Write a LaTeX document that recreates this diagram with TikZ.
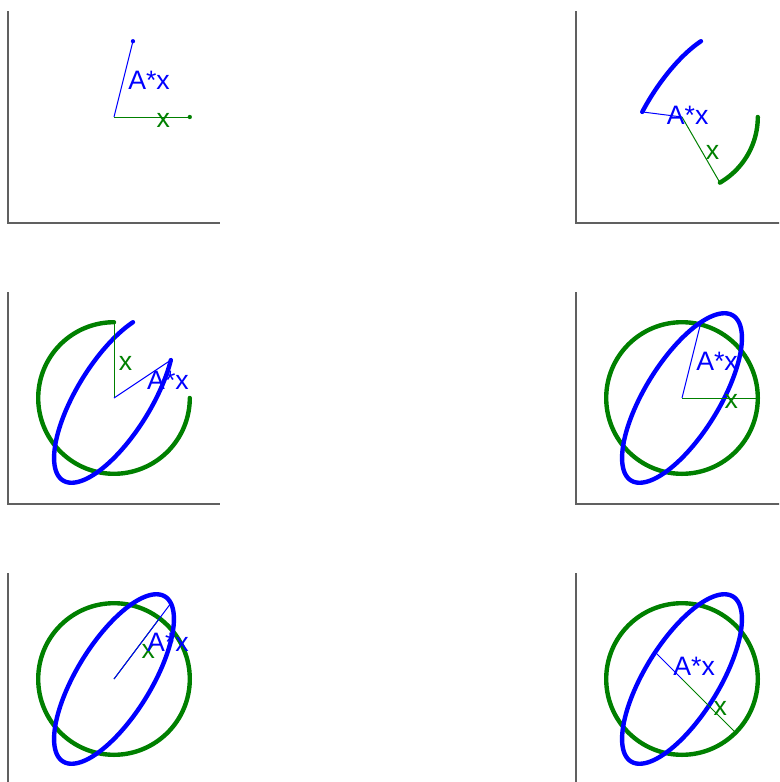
\documentclass[tikz,border=0pt]{standalone}
\usepackage{fontspec}
\setmainfont{Liberation Sans}
\definecolor{mblue}{RGB}{0,0,255}
\definecolor{mgreen}{RGB}{0,128,0}
\definecolor{axgray}{RGB}{96,96,96}
\newlength{\unitlen}
\setlength{\unitlen}{56.85pt}
% #1 name, #2 ox, #3 oy (pixels), #4 angle of x, #5 mode: 0 = dots, 1 = arc, 2 = full curve
\newcommand\eigpanel[5]{%
  \draw[axispath] (#2-106,#3-106) -- (#2-106,#3+106) -- (#2+106,#3+106);
  \begin{scope}[shift={(#2,#3)}, x=\unitlen, y=\unitlen]
    \coordinate (O#1) at (0,0);
    \coordinate (X#1) at ({cos(#4)},{sin(#4)});
    \coordinate (AX#1) at ({0.25*cos(#4)+0.75*sin(#4)},{cos(#4)+0.5*sin(#4)});
    \ifcase#5
      \fill[mgreen] (X#1) circle[radius=1.6pt];
      \fill[mblue] (AX#1) circle[radius=1.6pt];
    \or
      \draw[curvepath, mgreen] plot[domain=#4:0, samples=120] ({cos(\x)},{sin(\x)});
      \draw[curvepath, mblue] plot[domain=#4:0, samples=120] ({0.25*cos(\x)+0.75*sin(\x)},{cos(\x)+0.5*sin(\x)});
    \or
      \draw[curvepath, mgreen] (O#1) circle[radius=1];
      \draw[curvepath, mblue] plot[domain=0:360, samples=181] ({0.25*cos(\x)+0.75*sin(\x)},{cos(\x)+0.5*sin(\x)}) -- cycle;
    \fi
    \draw[vecpath, mgreen] (O#1) -- (X#1);
    \draw[vecpath, mblue] (O#1) -- (AX#1);
    \path (O#1) -- (X#1) node[lbl, midway, text=mgreen] (LX#1) {x};
    \path (O#1) -- (AX#1) node[lbl, midway, text=mblue] (LAX#1) {A*x};
  \end{scope}}
\begin{document}
\begin{tikzpicture}[x=0.75pt, y=-0.75pt,
  axispath/.style={draw=axgray, line width=1pt},
  vecpath/.style={line width=0.75pt},
  curvepath/.style={line width=3.3pt, line cap=round, line join=round},
  lbl/.style={anchor=base west, inner sep=0pt, font=\fontsize{20}{24}\selectfont, xshift=3.4pt, yshift=-7.5pt}]
\useasboundingbox (0,0) rectangle (779,782);
\clip (0,0) rectangle (779,782);
\eigpanel{a}{114}{117}{0}{0}
\eigpanel{b}{682}{117}{-60}{1}
\eigpanel{c}{114}{398}{-270}{1}
\eigpanel{d}{682}{398}{0}{2}
\eigpanel{e}{114}{679}{53.1301}{2}
\eigpanel{f}{682}{679}{-45}{2}
\end{tikzpicture}
\end{document}
